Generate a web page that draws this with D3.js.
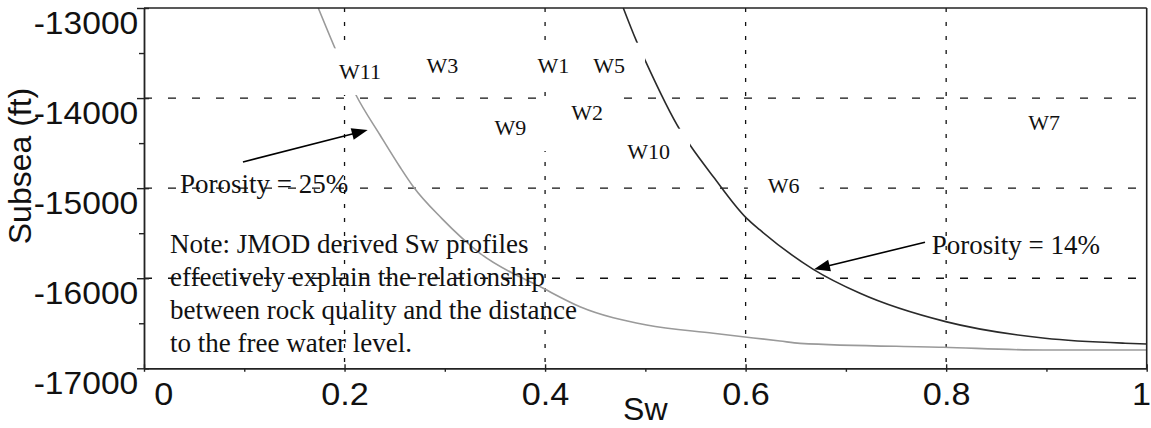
<!DOCTYPE html>
<html>
<head>
<meta charset="utf-8">
<script src="https://cdn.jsdelivr.net/npm/d3@7"></script>
<style>
  html, body { margin: 0; padding: 0; background: #fff; }
  svg { display: block; }
</style>
</head>
<body>
<svg id="chart" width="1151" height="428"></svg>
<script>
// ---- Axis ticks ----
const swTicks = [0, 0.2, 0.4, 0.6, 0.8, 1];
const swTickLabels = ["0", "0.2", "0.4", "0.6", "0.8", "1"];
const swMinorTicks = [0.1, 0.3, 0.5, 0.7, 0.9];
const depthTicks = [-13000, -14000, -15000, -16000, -17000];
const depthTickLabels = ["-13000", "-14000", "-15000", "-16000", "-17000"];
const depthMinorTicks = [-13500, -14500, -15500, -16500];
const gridSw = [0.2, 0.4, 0.6, 0.8];
const gridDepth = [-14000, -15000, -16000];

// ---- Sw profiles (Sw vs subsea depth) ----
const sw25 = [0.1738, 0.1905, 0.2114, 0.2354, 0.2553, 0.2686, 0.2969, 0.3351, 0.3982, 0.4348, 0.5013, 0.5678, 0.6343, 0.6542, 0.7971, 0.8966, 1.0];
const depth25 = [-13000, -13447, -13966, -14410, -14765, -14984, -15335, -15723, -16112, -16316, -16519, -16611, -16697, -16723, -16767, -16797, -16797];
const sw14 = [0.478, 0.4914, 0.4996, 0.5346, 0.5445, 0.5678, 0.6011, 0.6143, 0.6675, 0.7141, 0.7995, 0.8986, 0.9784, 1.0];
const depth14 = [-13000, -13374, -13577, -14354, -14521, -14873, -15335, -15464, -15901, -16167, -16482, -16667, -16722, -16730];

// ---- Well labels ----
const wellNames = ["W11", "W3", "W1", "W5", "W2", "W9", "W10", "W7", "W6"];
const wellSw = [0.2154, 0.2977, 0.4082, 0.4639, 0.442, 0.3655, 0.5033, 0.8978, 0.638];
const wellDepth = [-13788, -13725, -13725, -13725, -14243, -14410, -14680, -14354, -15057];

// ---- Porosity annotations ----
const porosityLabels = ["Porosity = 25%", "Porosity = 14%"];
const porosityLabelSw = [0.0359, 0.7856];
const porosityLabelDepth = [-15057, -15734];
const arrowTailSw = [0.0987, 0.7789];
const arrowTailDepth = [-14710, -15601];
const arrowTipSw = [0.2231, 0.6682];
const arrowTipDepth = [-14354, -15901];

const noteLines = [
  "Note: JMOD derived Sw profiles",
  "effectively explain the relationship",
  "between rock quality and the distance",
  "to the free water level."
];
const noteSw = 0.0259;
const noteDepth = -15725;

// ---- Layout ----
const width = 1151, height = 428;
const svg = d3.select("#chart");
const plot = { left: 144, right: 1146.7, top: 8, bottom: 368.3 };
const sansFont = "'Liberation Sans', Arial, sans-serif";
const serifFont = "'Liberation Serif', 'Times New Roman', serif";

const x = d3.scaleLinear().domain([0, 1]).range([plot.left, plot.right]);
const y = d3.scaleLinear().domain([-17000, -13000]).range([plot.bottom, plot.top]);

svg.append("rect").attr("width", width).attr("height", height).attr("fill", "#fff");

// Grid lines
const grid = svg.append("g");
grid.selectAll("line.v").data(gridSw).join("line")
  .attr("x1", d => x(d)).attr("x2", d => x(d))
  .attr("y1", plot.top).attr("y2", plot.bottom)
  .attr("stroke", "#111").attr("stroke-width", 1.3)
  .attr("stroke-dasharray", "4,10");
grid.selectAll("line.h").data(gridDepth).join("line")
  .attr("x1", plot.left).attr("x2", plot.right)
  .attr("y1", d => y(d)).attr("y2", d => y(d))
  .attr("stroke", "#111").attr("stroke-width", 1.3)
  .attr("stroke-dasharray", "8,16");

// Profiles
const line = d3.line().x(d => x(d[0])).y(d => y(d[1])).curve(d3.curveMonotoneX);
svg.append("path")
  .attr("d", line(sw25.map((s, i) => [s, depth25[i]])))
  .attr("fill", "none").attr("stroke", "#9a9a9a").attr("stroke-width", 1.6);
svg.append("path")
  .attr("d", line(sw14.map((s, i) => [s, depth14[i]])))
  .attr("fill", "none").attr("stroke", "#2a2a2a").attr("stroke-width", 1.6);

// Well labels on white boxes
const wells = svg.append("g");
wellNames.forEach((name, i) => {
  const g = wells.append("g");
  const cx = x(wellSw[i]), by = y(wellDepth[i]);
  const rect = g.append("rect").attr("fill", "#fff");
  const t = g.append("text")
    .attr("x", cx).attr("y", by)
    .attr("text-anchor", "middle")
    .attr("font-family", serifFont).attr("font-size", 22)
    .attr("fill", "#111")
    .text(name);
  const w = t.node().getComputedTextLength();
  rect.attr("x", cx - w / 2 - 20).attr("width", w + 40)
    .attr("y", by - 30.6).attr("height", 46.6);
});

// Arrows
const arrows = svg.append("g");
porosityLabels.forEach((_, i) => {
  const x0 = x(arrowTailSw[i]), y0 = y(arrowTailDepth[i]);
  const x1 = x(arrowTipSw[i]), y1 = y(arrowTipDepth[i]);
  const dx = x1 - x0, dy = y1 - y0, len = Math.hypot(dx, dy);
  const ux = dx / len, uy = dy / len;
  const headLen = 16, headHalf = 6;
  const bx = x1 - ux * headLen, by = y1 - uy * headLen;
  arrows.append("line")
    .attr("x1", x0).attr("y1", y0).attr("x2", bx + ux * 2).attr("y2", by + uy * 2)
    .attr("stroke", "#000").attr("stroke-width", 1.6);
  arrows.append("polygon")
    .attr("points", [
      [x1, y1],
      [bx - uy * headHalf, by + ux * headHalf],
      [bx + uy * headHalf, by - ux * headHalf]
    ].map(p => p.join(",")).join(" "))
    .attr("fill", "#000");
});

// Porosity labels
svg.append("g").selectAll("text").data(porosityLabels).join("text")
  .attr("x", (d, i) => x(porosityLabelSw[i]))
  .attr("y", (d, i) => y(porosityLabelDepth[i]))
  .attr("font-family", serifFont).attr("font-size", 27).attr("fill", "#111")
  .text(d => d);

// Note
const note = svg.append("text")
  .attr("x", x(noteSw)).attr("y", y(noteDepth))
  .attr("font-family", serifFont).attr("font-size", 27).attr("fill", "#111");
note.selectAll("tspan").data(noteLines).join("tspan")
  .attr("x", x(noteSw))
  .attr("dy", (d, i) => i === 0 ? 0 : 32.8)
  .text(d => d);

// Frame (top and right)
svg.append("line").attr("x1", plot.left).attr("x2", plot.right)
  .attr("y1", plot.top).attr("y2", plot.top)
  .attr("stroke", "#222").attr("stroke-width", 1.6);
svg.append("line").attr("x1", plot.right).attr("x2", plot.right)
  .attr("y1", plot.top).attr("y2", plot.bottom)
  .attr("stroke", "#222").attr("stroke-width", 1.6);

// Minor ticks
svg.append("g").attr("transform", `translate(0,${plot.bottom})`)
  .call(d3.axisBottom(x).tickValues(swMinorTicks).tickSize(3.5).tickFormat(""))
  .call(g => g.select(".domain").remove())
  .call(g => g.selectAll("line").attr("stroke", "#222").attr("stroke-width", 1.4));
svg.append("g").attr("transform", `translate(${plot.left},0)`)
  .call(d3.axisLeft(y).tickValues(depthMinorTicks).tickSize(5).tickFormat(""))
  .call(g => g.select(".domain").remove())
  .call(g => g.selectAll("line").attr("stroke", "#222").attr("stroke-width", 1.4));

// X axis
const xAxis = svg.append("g").attr("transform", `translate(0,${plot.bottom})`)
  .call(d3.axisBottom(x).tickValues(swTicks).tickSizeOuter(0)
    .tickFormat((d, i) => swTickLabels[i]));
xAxis.select(".domain").attr("stroke", "#222").attr("stroke-width", 1.8);
xAxis.selectAll(".tick line").attr("y1", -4).attr("y2", 3.5)
  .attr("stroke", "#222").attr("stroke-width", 1.4);
xAxis.selectAll(".tick text")
  .attr("font-family", sansFont).attr("font-size", 32).attr("fill", "#111")
  .attr("y", 36.5).attr("dy", 0)
  .attr("transform", "scale(1.07,1)");
// first label sits clear of the corner; last label kept inside the right edge
xAxis.selectAll(".tick text").filter(d => d === 0).attr("x", 18);
xAxis.selectAll(".tick text").filter(d => d === 1)
  .attr("text-anchor", "end").attr("x", (width - 0.5 - x(1)) / 1.07);

// Y axis
const yAxis = svg.append("g").attr("transform", `translate(${plot.left},0)`)
  .call(d3.axisLeft(y).tickValues(depthTicks).tickSizeOuter(0)
    .tickFormat((d, i) => depthTickLabels[i]));
yAxis.select(".domain").attr("stroke", "#222").attr("stroke-width", 1.8);
yAxis.selectAll(".tick line").attr("x1", -7).attr("x2", 5)
  .attr("stroke", "#222").attr("stroke-width", 1.4);
yAxis.selectAll(".tick text")
  .attr("font-family", sansFont).attr("font-size", 32).attr("fill", "#111")
  .attr("x", -5.5).attr("dy", 25)
  .attr("transform", "scale(1.05,1)");

// Axis titles
svg.append("text")
  .attr("x", (plot.left + plot.right) / 2).attr("y", 420)
  .attr("text-anchor", "middle")
  .attr("font-family", sansFont).attr("font-size", 32).attr("fill", "#111")
  .text("Sw");
svg.append("text")
  .attr("transform", "translate(31,166) rotate(-90)")
  .attr("text-anchor", "middle")
  .attr("font-family", sansFont).attr("font-size", 32).attr("fill", "#111")
  .text("Subsea (ft)");
</script>
</body>
</html>
